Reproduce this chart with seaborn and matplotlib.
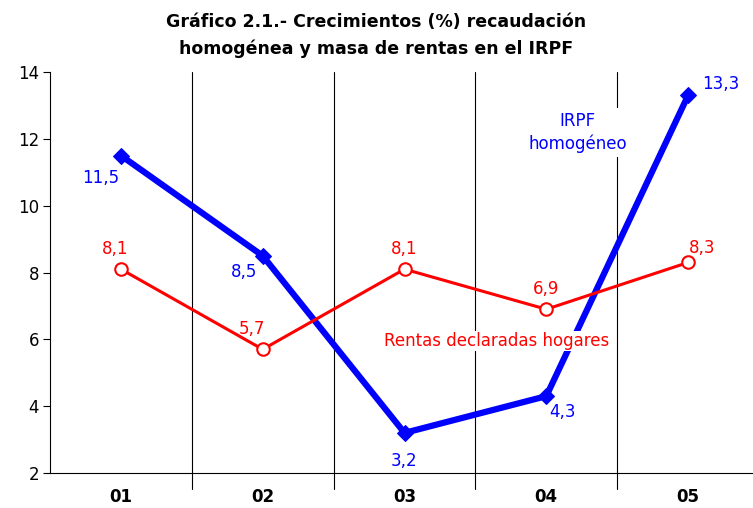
import matplotlib
matplotlib.use("Agg")
import matplotlib.pyplot as plt
import numpy as np
import pandas as pd
import seaborn as sns

years = ["01", "02", "03", "04", "05"]
irpf = [11.5, 8.5, 3.2, 4.3, 13.3]
rentas = [8.1, 5.7, 8.1, 6.9, 8.3]
irpf_labels = ["11,5", "8,5", "3,2", "4,3", "13,3"]
rentas_labels = ["8,1", "5,7", "8,1", "6,9", "8,3"]

BLUE = "#0000ff"
RED = "#ff0000"

sns.set_theme(style="white")
plt.rcParams["font.family"] = ["DejaVu Sans"]
plt.rcParams["text.color"] = "black"

df = pd.DataFrame({"pos": np.arange(len(years)), "irpf": irpf, "rentas": rentas})

fig = plt.figure(figsize=(7.53, 5.08), dpi=100)
ax = fig.add_axes([50 / 753, 1 - 473 / 508, 709 / 753, 401 / 508])

sns.lineplot(data=df, x="pos", y="irpf", ax=ax, color=BLUE, linewidth=4.5,
             marker="D", markersize=8, markeredgecolor=BLUE, zorder=3)
sns.lineplot(data=df, x="pos", y="rentas", ax=ax, color=RED, linewidth=2.2,
             marker="o", markersize=9, markerfacecolor="white",
             markeredgecolor=RED, markeredgewidth=1.5, zorder=4)

# separators between years
for x in np.arange(0.5, len(years) - 0.5, 1):
    ax.axvline(x, ymin=-0.04, ymax=1, color="black", linewidth=0.8,
               zorder=1, clip_on=False)

ax.set_xlim(-0.5, len(years) - 0.5)
ax.set_ylim(2, 14)
ax.set_yticks(range(2, 15, 2))
ax.set_xticks(df["pos"])
ax.set_xticklabels(years, fontsize=12, fontweight="bold")
ax.set_xlabel("")
ax.set_ylabel("")
ax.tick_params(axis="y", labelsize=12, length=5, width=0.8, direction="out",
               left=True, pad=3, colors="black")
ax.tick_params(axis="x", length=0, pad=11, colors="black")

for side in ["top", "right"]:
    ax.spines[side].set_visible(False)
ax.spines["left"].set_color("black")
ax.spines["left"].set_linewidth(0.8)
ax.spines["bottom"].set_color("black")
ax.spines["bottom"].set_linewidth(0.8)

# value labels
irpf_off = [(-1, -10, "right", "top"), (-4, -5, "right", "top"),
            (0, -14, "center", "top"), (2, -5, "left", "top"),
            (10, 2, "left", "bottom")]
for i, (lab, (dx, dy, ha, va)) in enumerate(zip(irpf_labels, irpf_off)):
    ax.annotate(lab, (i, irpf[i]), xytext=(dx, dy), textcoords="offset points",
                ha=ha, va=va, color=BLUE, fontsize=12)

rentas_off = [(-4, 8, "center", "bottom"), (-8, 8, "center", "bottom"),
              (0, 8, "center", "bottom"), (0, 8, "center", "bottom"),
              (10, 4, "center", "bottom")]
for i, (lab, (dx, dy, ha, va)) in enumerate(zip(rentas_labels, rentas_off)):
    ax.annotate(lab, (i, rentas[i]), xytext=(dx, dy), textcoords="offset points",
                ha=ha, va=va, color=RED, fontsize=12)

ax.text(2.65, 5.95, "Rentas declaradas hogares", color=RED, fontsize=12,
        ha="center", va="center", zorder=5,
        bbox=dict(facecolor="white", edgecolor="none", pad=1))
ax.text(3.22, 12.2, "IRPF\nhomogéneo", color=BLUE, fontsize=12,
        ha="center", va="center", linespacing=1.3, zorder=5,
        bbox=dict(facecolor="white", edgecolor="none", pad=3))

fig.suptitle("Gráfico 2.1.- Crecimientos (%) recaudación\nhomogénea y masa de rentas en el IRPF",
             x=0.5, y=0.975, fontsize=12.5, fontweight="bold", linespacing=1.6,
             color="black")

fig.savefig("out.png", dpi=100)
